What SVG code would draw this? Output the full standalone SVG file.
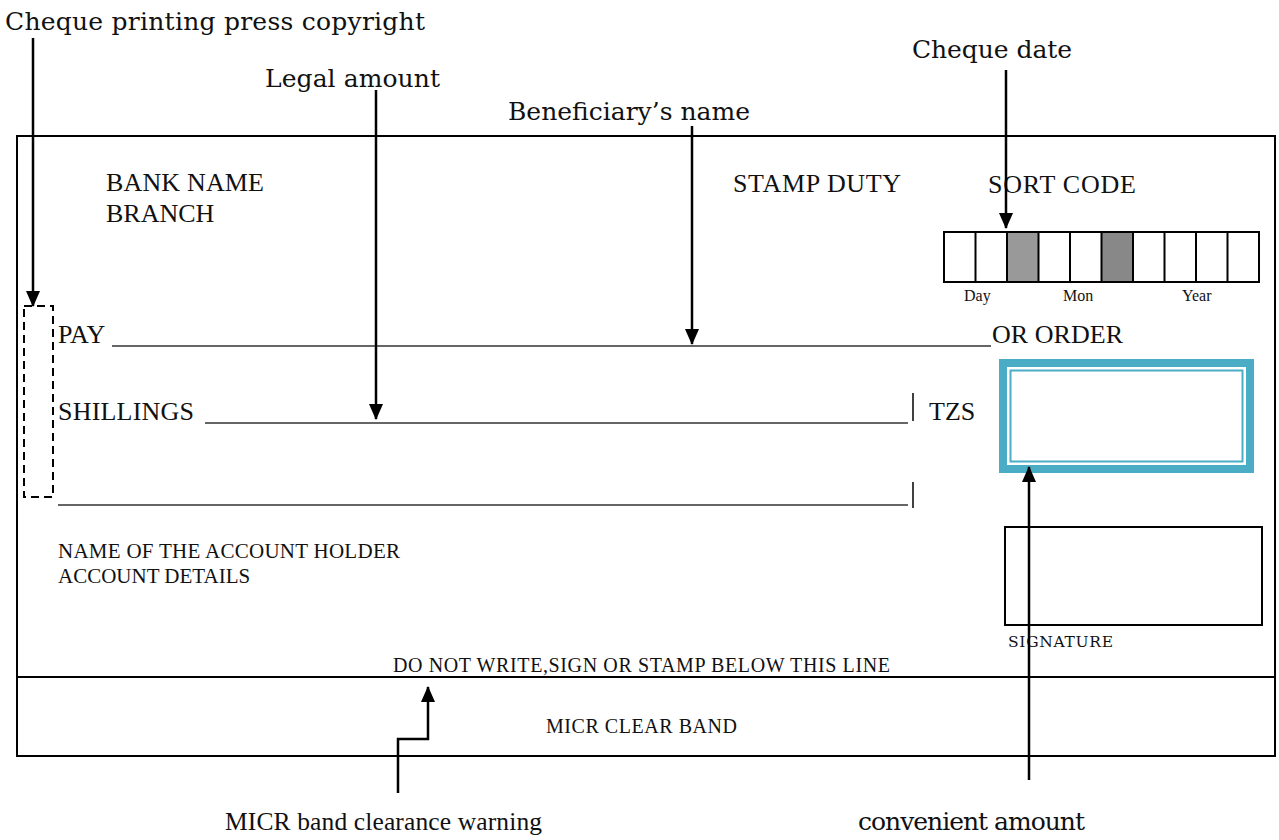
<svg xmlns="http://www.w3.org/2000/svg" width="1279" height="840" viewBox="0 0 1279 840">
<style>
.lbl{font-family:"DejaVu Serif","Liberation Serif",serif;font-size:25px;fill:#111}
.t{font-family:"Liberation Serif",serif;fill:#111}
.big{font-size:26px}
.mid{font-size:21px}
.sm2{font-size:20px}
.sm{font-size:16px}
.bl{font-size:25.5px}
.ln{stroke:#000;stroke-width:2;fill:none}
.ul{stroke:#333;stroke-width:1.3}
.arr{stroke:#000;stroke-width:2.5;fill:none;marker-end:url(#ah)}
</style>
<defs>
<marker id="ah" markerUnits="userSpaceOnUse" markerWidth="16" markerHeight="16" viewBox="0 0 16 16" refX="15" refY="8" orient="auto">
<path d="M0,1 L16,8 L0,15 Z" fill="#000"/>
</marker>
</defs>
<rect width="1279" height="840" fill="#fff"/>

<g id="cheque">
<rect x="17" y="136" width="1258" height="620" class="ln"/>
<line x1="17" y1="677" x2="1275" y2="677" class="ln"/>
</g>

<g id="bank">
<text x="106" y="191" class="t big" textLength="158">BANK NAME</text>
<text x="106" y="222" class="t big">BRANCH</text>
</g>
<g id="stamp"><text x="733" y="192" class="t big" textLength="168">STAMP DUTY</text></g>
<g id="sortcode"><text x="988" y="193" class="t big" textLength="148">SORT CODE</text></g>

<g id="datebox">
<rect x="944" y="232" width="315" height="50" fill="#fff" stroke="#000" stroke-width="2"/>
<rect x="1007" y="232" width="31.5" height="50" fill="#999" stroke="#000" stroke-width="2"/>
<rect x="1101.5" y="232" width="31.5" height="50" fill="#888" stroke="#000" stroke-width="2"/>
<g stroke="#000" stroke-width="2">
<line x1="975.5" y1="232" x2="975.5" y2="282"/>
<line x1="1070" y1="232" x2="1070" y2="282"/>
<line x1="1164.5" y1="232" x2="1164.5" y2="282"/>
<line x1="1196" y1="232" x2="1196" y2="282"/>
<line x1="1227.5" y1="232" x2="1227.5" y2="282"/>
</g>
<text x="964" y="301" class="t sm">Day</text>
<text x="1063" y="301" class="t sm">Mon</text>
<text x="1182" y="301" class="t sm">Year</text>
</g>

<g id="copyright-zone">
<rect x="24" y="306" width="29" height="191" fill="none" stroke="#000" stroke-width="2" stroke-dasharray="8,5"/>
</g>

<g id="pay">
<text x="58" y="343" class="t big">PAY</text>
<line x1="112" y1="346" x2="991" y2="346" class="ul"/>
<text x="992" y="343" class="t big" textLength="131">OR ORDER</text>
</g>

<g id="shillings">
<text x="58" y="420" class="t big" textLength="136">SHILLINGS</text>
<line x1="205" y1="423" x2="908" y2="423" class="ul"/>
<line x1="913" y1="393" x2="913" y2="421" stroke="#000" stroke-width="1.5"/>
<text x="929" y="420" class="t big">TZS</text>
<line x1="58" y1="505" x2="908" y2="505" class="ul"/>
<line x1="913" y1="482" x2="913" y2="508" stroke="#000" stroke-width="1.5"/>
</g>

<g id="amountbox">
<rect x="1003" y="363" width="247" height="106" fill="none" stroke="#4BACC6" stroke-width="8"/>
<rect x="1010.5" y="370.5" width="232" height="91" fill="none" stroke="#4BACC6" stroke-width="2"/>
</g>

<g id="account">
<text x="58" y="558" class="t mid" textLength="342">NAME OF THE ACCOUNT HOLDER</text>
<text x="58" y="583" class="t mid">ACCOUNT DETAILS</text>
</g>

<g id="signature">
<rect x="1005" y="527" width="257" height="98" fill="none" stroke="#000" stroke-width="2"/>
<text x="1008" y="647" class="lbl" style="font-size:15.5px" textLength="105">SIGNATURE</text>
</g>

<g id="micr">
<text x="393" y="672" class="t sm2" textLength="497">DO NOT WRITE,SIGN OR STAMP BELOW THIS LINE</text>
<text x="546" y="733" class="t sm2" textLength="191">MICR CLEAR BAND</text>
</g>

<g id="labels">
<text x="5" y="30" class="lbl" textLength="420">Cheque printing press copyright</text>
<text x="265" y="87" class="lbl" textLength="175">Legal amount</text>
<text x="508" y="120" class="lbl" textLength="242">Beneficiary’s name</text>
<text x="912" y="58" class="lbl" textLength="160">Cheque date</text>
<text x="225" y="830" class="t bl" textLength="317">MICR band clearance warning</text>
<text x="858" y="830" class="lbl" textLength="227">convenient amount</text>
</g>

<g id="connectors">
<line x1="33" y1="38" x2="33" y2="306" class="arr"/>
<line x1="376" y1="90" x2="376" y2="419" class="arr"/>
<line x1="692" y1="126" x2="692" y2="344" class="arr"/>
<line x1="1006" y1="70" x2="1006" y2="228" class="arr"/>
<line x1="1029" y1="780" x2="1029" y2="467" class="arr"/>
<polyline points="398,793 398,739 428,739 428,687" class="arr"/>
</g>
</svg>
